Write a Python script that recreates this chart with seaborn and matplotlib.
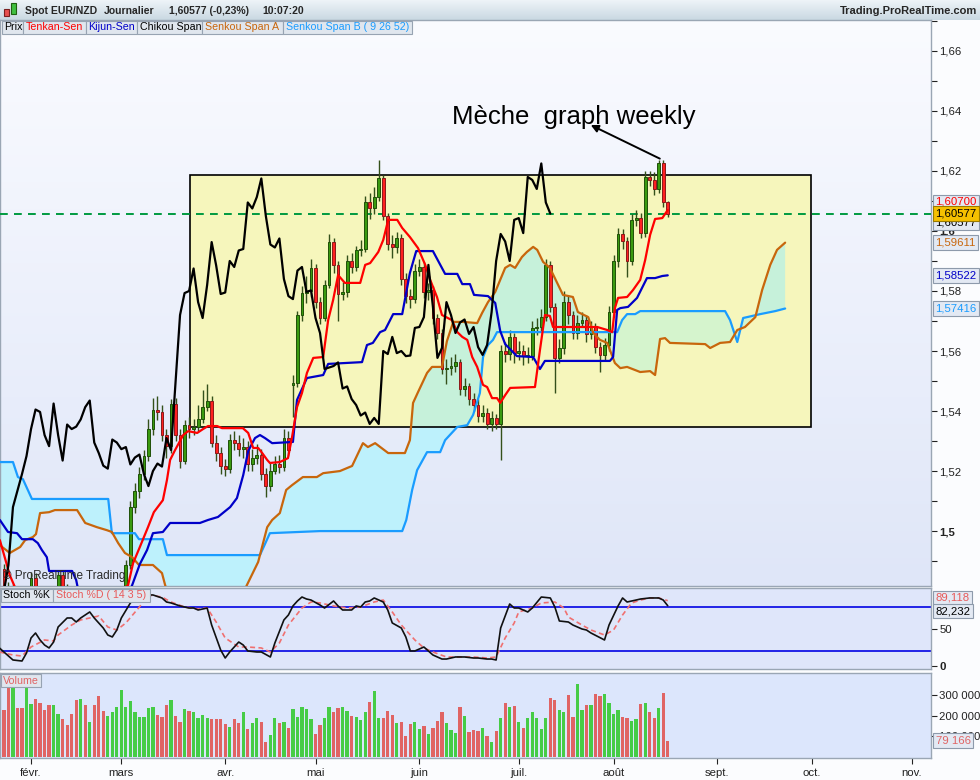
import numpy as np
import pandas as pd
import matplotlib
matplotlib.use("Agg")
import matplotlib.pyplot as plt
import matplotlib.transforms as mtransforms
from matplotlib.patches import Rectangle
from matplotlib.colors import LinearSegmentedColormap
import seaborn as sns

sns.set_theme(style="white")
plt.rcParams["font.family"] = ["Liberation Sans", "DejaVu Sans"]
plt.rcParams["axes.unicode_minus"] = False

# ------------------------------------------------------------------ data
start_date = "2017-01-23"          # business-day index 0
bar_idx = list(range(1, 149))      # 24 Jan 2017 ... 17 Aug 2017

open_ = [
    1.4875, 1.4810, 1.4770, 1.4800, 1.4760, 1.4720, 1.4780, 1.4845, 1.4800, 1.4760,
    1.4730, 1.4700, 1.4770, 1.4855, 1.4810, 1.4770, 1.4740, 1.4710, 1.4750, 1.4720,
    1.4760, 1.4730, 1.4700, 1.4670, 1.4700, 1.4730, 1.4760, 1.4800, 1.4887, 1.5080,
    1.5135, 1.5190, 1.5250, 1.5340, 1.5405, 1.5397, 1.5320, 1.5283, 1.5425, 1.5320,
    1.5235, 1.5355, 1.5340, 1.5348, 1.5372, 1.5413, 1.5435, 1.5295, 1.5260, 1.5218,
    1.5208, 1.5305, 1.5295, 1.5273, 1.5280, 1.5222, 1.5245, 1.5255, 1.5190, 1.5150,
    1.5200, 1.5225, 1.5215, 1.5310, 1.5488, 1.5495, 1.5720, 1.5793, 1.5800, 1.5875,
    1.5763, 1.5710, 1.5820, 1.5963, 1.5885, 1.5790, 1.5795, 1.5900, 1.5880, 1.5935,
    1.5940, 1.6095, 1.6075, 1.6113, 1.6175, 1.6050, 1.5955, 1.5945, 1.5975, 1.5840,
    1.5783, 1.5773, 1.5868, 1.5880, 1.5797, 1.5802, 1.5710, 1.5660, 1.5540, 1.5545,
    1.5550, 1.5562, 1.5475, 1.5482, 1.5440, 1.5420, 1.5385, 1.5395, 1.5357, 1.5377,
    1.5357, 1.5600, 1.5590, 1.5647, 1.5593, 1.5600, 1.5583, 1.5585, 1.5677, 1.5680,
    1.5713, 1.5887, 1.5747, 1.5577, 1.5610, 1.5763, 1.5720, 1.5660, 1.5695, 1.5705,
    1.5657, 1.5680, 1.5613, 1.5587, 1.5620, 1.5730, 1.5900, 1.5990, 1.5965, 1.5900,
    1.6037, 1.6043, 1.5993, 1.6180, 1.6170, 1.6140, 1.6225, 1.6095]

close = [
    1.4810, 1.4770, 1.4800, 1.4760, 1.4720, 1.4780, 1.4845, 1.4800, 1.4760, 1.4730,
    1.4700, 1.4770, 1.4855, 1.4810, 1.4770, 1.4740, 1.4710, 1.4750, 1.4720, 1.4760,
    1.4730, 1.4700, 1.4670, 1.4700, 1.4730, 1.4760, 1.4800, 1.4887, 1.5080, 1.5135,
    1.5190, 1.5250, 1.5340, 1.5405, 1.5397, 1.5320, 1.5283, 1.5425, 1.5320, 1.5235,
    1.5355, 1.5340, 1.5348, 1.5372, 1.5413, 1.5435, 1.5295, 1.5260, 1.5218, 1.5208,
    1.5305, 1.5295, 1.5273, 1.5280, 1.5222, 1.5245, 1.5255, 1.5190, 1.5150, 1.5200,
    1.5225, 1.5215, 1.5310, 1.5270, 1.5495, 1.5720, 1.5793, 1.5800, 1.5875, 1.5763,
    1.5710, 1.5820, 1.5963, 1.5885, 1.5790, 1.5795, 1.5900, 1.5880, 1.5935, 1.5940,
    1.6095, 1.6075, 1.6113, 1.6175, 1.6050, 1.5955, 1.5945, 1.5975, 1.5840, 1.5783,
    1.5773, 1.5868, 1.5880, 1.5797, 1.5802, 1.5710, 1.5660, 1.5540, 1.5545, 1.5550,
    1.5562, 1.5475, 1.5482, 1.5440, 1.5420, 1.5385, 1.5395, 1.5357, 1.5377, 1.5357,
    1.5600, 1.5590, 1.5647, 1.5593, 1.5600, 1.5583, 1.5585, 1.5677, 1.5680, 1.5713,
    1.5887, 1.5747, 1.5577, 1.5610, 1.5763, 1.5720, 1.5660, 1.5695, 1.5705, 1.5657,
    1.5680, 1.5613, 1.5587, 1.5620, 1.5730, 1.5900, 1.5990, 1.5965, 1.5900, 1.6037,
    1.6043, 1.5993, 1.6180, 1.6170, 1.6140, 1.6225, 1.6095, 1.60577]

high = [
    1.4890, 1.4830, 1.4825, 1.4815, 1.4775, 1.4795, 1.4865, 1.4860, 1.4815, 1.4780,
    1.4745, 1.4790, 1.4870, 1.4868, 1.4825, 1.4785, 1.4755, 1.4765, 1.4765, 1.4775,
    1.4770, 1.4745, 1.4715, 1.4715, 1.4745, 1.4775, 1.4815, 1.4905, 1.5100, 1.5160,
    1.5215, 1.5270, 1.5375, 1.5445, 1.5450, 1.5420, 1.5340, 1.5440, 1.5445, 1.5340,
    1.5370, 1.5380, 1.5375, 1.5420, 1.5470, 1.5490, 1.5450, 1.5320, 1.5280, 1.5240,
    1.5325, 1.5335, 1.5320, 1.5310, 1.5300, 1.5275, 1.5290, 1.5275, 1.5210, 1.5230,
    1.5250, 1.5255, 1.5340, 1.5335, 1.5520, 1.5735, 1.5815, 1.5850, 1.5905, 1.5890,
    1.5780, 1.5835, 1.5990, 1.5975, 1.5900, 1.5830, 1.5920, 1.5925, 1.5950, 1.5970,
    1.6115, 1.6125, 1.6145, 1.6237, 1.6185, 1.6060, 1.5985, 1.5995, 1.5990, 1.5860,
    1.5805, 1.5890, 1.5905, 1.5895, 1.5825, 1.5815, 1.5725, 1.5675, 1.5575, 1.5580,
    1.5590, 1.5575, 1.5510, 1.5495, 1.5460, 1.5440, 1.5420, 1.5410, 1.5400, 1.5390,
    1.5620, 1.5630, 1.5670, 1.5660, 1.5635, 1.5620, 1.5615, 1.5700, 1.5710, 1.5740,
    1.5905, 1.5900, 1.5760, 1.5640, 1.5800, 1.5785, 1.5735, 1.5720, 1.5730, 1.5720,
    1.5700, 1.5695, 1.5630, 1.5645, 1.5750, 1.5920, 1.6010, 1.6005, 1.5980, 1.6055,
    1.6070, 1.6060, 1.6200, 1.6200, 1.6195, 1.6237, 1.6237, 1.6100]

low = [
    1.4795, 1.4750, 1.4755, 1.4745, 1.4700, 1.4710, 1.4770, 1.4785, 1.4745, 1.4715,
    1.4685, 1.4690, 1.4760, 1.4795, 1.4755, 1.4725, 1.4695, 1.4700, 1.4705, 1.4710,
    1.4715, 1.4685, 1.4650, 1.4655, 1.4690, 1.4720, 1.4750, 1.4790, 1.4875, 1.5060,
    1.5110, 1.5170, 1.5235, 1.5320, 1.5370, 1.5300, 1.5245, 1.5260, 1.5300, 1.5210,
    1.5225, 1.5310, 1.5320, 1.5335, 1.5360, 1.5400, 1.5280, 1.5235, 1.5190, 1.5185,
    1.5195, 1.5270, 1.5250, 1.5245, 1.5200, 1.5200, 1.5225, 1.5170, 1.5115, 1.5135,
    1.5190, 1.5195, 1.5200, 1.5250, 1.5380, 1.5480, 1.5700, 1.5760, 1.5780, 1.5745,
    1.5690, 1.5700, 1.5810, 1.5860, 1.5700, 1.5770, 1.5780, 1.5860, 1.5865, 1.5915,
    1.5930, 1.6040, 1.6055, 1.6100, 1.6035, 1.5935, 1.5910, 1.5925, 1.5820, 1.5760,
    1.5745, 1.5760, 1.5850, 1.5775, 1.5770, 1.5690, 1.5640, 1.5525, 1.5490, 1.5520,
    1.5530, 1.5455, 1.5450, 1.5420, 1.5400, 1.5365, 1.5365, 1.5340, 1.5335, 1.5340,
    1.5237, 1.5565, 1.5570, 1.5560, 1.5570, 1.5555, 1.5560, 1.5570, 1.5655, 1.5665,
    1.5700, 1.5730, 1.5460, 1.5560, 1.5590, 1.5690, 1.5640, 1.5640, 1.5680, 1.5630,
    1.5640, 1.5595, 1.5530, 1.5570, 1.5600, 1.5715, 1.5880, 1.5940, 1.5845, 1.5885,
    1.6015, 1.5975, 1.5980, 1.6150, 1.6120, 1.6125, 1.6080, 1.6045]

volume = [
    225000, 332000, 345000, 235000, 235000, 340000, 255000, 280000, 260000, 225000,
    250000, 250000, 210000, 185000, 157000, 210000, 275000, 280000, 250000, 170000,
    250000, 295000, 220000, 200000, 215000, 240000, 325000, 240000, 270000, 215000,
    195000, 195000, 235000, 240000, 205000, 195000, 250000, 275000, 200000, 170000,
    230000, 220000, 215000, 190000, 205000, 190000, 185000, 185000, 185000, 160000,
    145000, 185000, 165000, 215000, 135000, 165000, 190000, 170000, 75000, 105000,
    190000, 165000, 170000, 140000, 230000, 195000, 240000, 230000, 185000, 110000,
    155000, 190000, 240000, 215000, 235000, 240000, 220000, 200000, 195000, 180000,
    215000, 265000, 320000, 190000, 190000, 220000, 205000, 165000, 170000, 100000,
    160000, 170000, 135000, 150000, 110000, 140000, 175000, 215000, 165000, 130000,
    115000, 240000, 200000, 120000, 130000, 125000, 140000, 100000, 75000, 125000,
    190000, 260000, 240000, 245000, 170000, 140000, 190000, 215000, 190000, 135000,
    190000, 285000, 275000, 225000, 215000, 300000, 195000, 350000, 225000, 250000,
    250000, 305000, 295000, 305000, 260000, 210000, 225000, 195000, 190000, 175000,
    185000, 255000, 260000, 215000, 190000, 235000, 310000, 79166]

# Ichimoku lines (bar index, price)
tenkan_t = [0.1, 2.3, 3.9, 13.4, 24.5, 28.5, 29.6, 31.1, 32.9, 34.2, 36.2, 37.1, 37.8, 38.9, 40.7,
            41.8, 43.8, 45.1, 46.2, 48.2, 49.3, 53.9, 55.1, 56.2, 57.3, 58.2, 59.3, 59.9, 62.1, 63.9,
            64.8, 65.9, 67.0, 68.1, 69.5, 71.7, 72.8, 73.9, 75.0, 76.5, 79.9, 81.0, 82.1, 83.9, 85.0,
            86.1, 88.1, 89.2, 90.9, 92.7, 94.3, 95.4, 96.9, 98.0, 100.2, 101.4, 102.5, 103.6, 104.7,
            105.8, 107.1, 108.0, 109.1, 110.2, 110.9, 112.0, 113.1, 118.6, 119.7, 120.8, 121.9, 122.6,
            132.4, 134.6, 135.7, 136.3, 137.0, 139.0, 140.3, 141.9, 143.0, 144.1, 145.2, 146.8, 148.0]
tenkan_v = [1.4970, 1.4853, 1.4797, 1.4777, 1.4770, 1.4820, 1.4893, 1.4947, 1.5013, 1.5063, 1.5103,
            1.5170, 1.5237, 1.5270, 1.5320, 1.5333, 1.5327, 1.5340, 1.5350, 1.5350, 1.5343, 1.5343,
            1.5327, 1.5277, 1.5277, 1.5260, 1.5237, 1.5227, 1.5230, 1.5243, 1.5313, 1.5413, 1.5460,
            1.5527, 1.5577, 1.5580, 1.5703, 1.5770, 1.5853, 1.5827, 1.5827, 1.5887, 1.5893, 1.5930,
            1.5970, 1.6037, 1.6037, 1.6010, 1.5980, 1.5943, 1.5887, 1.5837, 1.5780, 1.5720, 1.5703,
            1.5663, 1.5647, 1.5637, 1.5580, 1.5547, 1.5487, 1.5480, 1.5443, 1.5443, 1.5427, 1.5453,
            1.5477, 1.5480, 1.5603, 1.5720, 1.5717, 1.5680, 1.5680, 1.5670, 1.5663, 1.5743, 1.5777,
            1.5780, 1.5803, 1.5837, 1.5903, 1.5987, 1.6040, 1.6043, 1.6070]

kijun_t = [0.1, 1.9, 3.9, 5.0, 7.4, 8.5, 9.4, 10.5, 11.0, 16.1, 17.0, 17.9, 27.8, 29.4, 31.1, 32.7,
           34.0, 36.2, 37.8, 44.4, 46.2, 48.4, 51.1, 52.6, 54.0, 55.1, 56.6, 57.7, 58.8, 60.4, 65.0,
           65.9, 68.1, 71.7, 72.8, 80.3, 81.4, 82.7, 84.3, 85.4, 87.2, 89.2, 90.9, 92.3, 96.0, 98.7,
           101.4, 102.5, 104.2, 105.1, 108.2, 109.8, 110.9, 112.0, 114.6, 118.2, 119.7, 120.8, 135.2,
           135.9, 136.8, 137.5, 139.2, 141.2, 142.3, 143.4, 145.2, 146.8, 148.0]
kijun_v = [1.5037, 1.4997, 1.4993, 1.4973, 1.4973, 1.4960, 1.4937, 1.4913, 1.4867, 1.4867, 1.4837,
           1.4770, 1.4770, 1.4820, 1.4890, 1.4937, 1.4993, 1.4997, 1.5027, 1.5027, 1.5037, 1.5047,
           1.5080, 1.5110, 1.5187, 1.5267, 1.5310, 1.5320, 1.5310, 1.5293, 1.5297, 1.5437, 1.5510,
           1.5520, 1.5557, 1.5563, 1.5620, 1.5627, 1.5663, 1.5670, 1.5723, 1.5723, 1.5860, 1.5933,
           1.5933, 1.5857, 1.5857, 1.5823, 1.5823, 1.5787, 1.5783, 1.5760, 1.5667, 1.5623, 1.5583,
           1.5580, 1.5540, 1.5567, 1.5567, 1.5580, 1.5737, 1.5743, 1.5747, 1.5777, 1.5810, 1.5843,
           1.5843, 1.5850, 1.58522]

senkou_a_t = [0.1, 2.3, 4.6, 5.7, 7.4, 8.1, 9.0, 11.0, 12.3, 17.2, 19.0, 21.6, 23.8, 24.9, 26.3,
              27.8, 29.4, 30.9, 34.0, 36.0, 36.7, 37.8, 53.3, 54.8, 57.3, 59.3, 60.4, 62.1, 63.5,
              64.8, 67.2, 70.3, 71.7, 75.4, 78.1, 80.5, 81.6, 83.2, 86.1, 89.8, 90.9, 91.6, 92.7,
              94.7, 95.8, 98.0, 99.1, 100.5, 102.7, 105.8, 106.9, 108.2, 109.8, 110.9, 112.0, 113.1,
              114.2, 115.7, 116.8, 118.2, 119.1, 120.4, 121.9, 123.0, 124.8, 127.0, 128.1, 130.4,
              131.5, 133.0, 134.6, 136.3, 137.5, 139.0, 141.9, 144.1, 145.2, 146.3, 147.4, 148.5,
              156.3, 157.4, 159.6, 161.8, 163.4, 165.1, 167.4, 168.9, 170.7, 172.2, 174.0]
senkou_a_v = [1.4953, 1.4927, 1.4947, 1.4970, 1.4980, 1.4990, 1.5060, 1.5063, 1.5070, 1.5070,
              1.5027, 1.5013, 1.5003, 1.4997, 1.4960, 1.4927, 1.4913, 1.4887, 1.4887, 1.4860,
              1.4820, 1.4770, 1.4770, 1.4820, 1.4897, 1.5013, 1.5037, 1.5060, 1.5137, 1.5153,
              1.5180, 1.5180, 1.5193, 1.5200, 1.5217, 1.5293, 1.5280, 1.5293, 1.5260, 1.5260,
              1.5303, 1.5427, 1.5463, 1.5527, 1.5547, 1.5547, 1.5633, 1.5697, 1.5697, 1.5693,
              1.5727, 1.5763, 1.5797, 1.5837, 1.5877, 1.5887, 1.5877, 1.5913, 1.5930, 1.5947,
              1.5937, 1.5897, 1.5877, 1.5843, 1.5787, 1.5780, 1.5730, 1.5713, 1.5660, 1.5637,
              1.5627, 1.5560, 1.5543, 1.5547, 1.5530, 1.5533, 1.5520, 1.5640, 1.5643, 1.5627,
              1.5623, 1.5610, 1.5627, 1.5630, 1.5670, 1.5680, 1.5713, 1.5803, 1.5887, 1.5937, 1.59611]

senkou_b_t = [0.1, 3.0, 4.1, 5.2, 7.2, 24.1, 24.9, 30.0, 30.9, 36.2, 37.1, 57.7, 59.9, 71.0, 89.2,
              90.1, 91.4, 92.5, 94.7, 97.6, 98.7, 101.4, 103.6, 104.9, 106.4, 107.1, 108.2, 109.3,
              110.2, 136.8, 137.9, 139.0, 140.8, 141.9, 160.7, 161.8, 163.4, 164.7, 168.5, 171.8, 174.0]
senkou_b_v = [1.5230, 1.5230, 1.5180, 1.5173, 1.5107, 1.5107, 1.4993, 1.4993, 1.4973, 1.4973,
              1.4920, 1.4920, 1.4993, 1.5000, 1.5000, 1.5037, 1.5137, 1.5203, 1.5263, 1.5263,
              1.5303, 1.5347, 1.5353, 1.5387, 1.5460, 1.5580, 1.5620, 1.5637, 1.5663, 1.5663,
              1.5703, 1.5723, 1.5723, 1.5733, 1.5733, 1.5703, 1.5630, 1.5710, 1.5723, 1.5733, 1.57416]
chikou_shift = 26

# Stochastic (14 3 5)
stoch_k_t = [0, 1, 3, 5, 6, 7, 8, 9, 10, 11, 12, 13, 15, 16, 17, 18, 20, 21, 23, 24, 25, 26, 27, 29,
             31, 34, 36, 37, 38, 40, 42, 43, 44, 46, 47, 49, 50, 51, 53, 54, 55, 57, 58, 60, 61, 63,
             64, 65, 66, 67, 68, 69, 71, 72, 74, 75, 76, 78, 79, 80, 81, 82, 83, 85, 86, 87, 89, 90,
             91, 92, 94, 96, 98, 99, 101, 103, 105, 106, 108, 109, 110, 111, 113, 114, 115, 117, 118,
             120, 122, 123, 124, 126, 127, 129, 130, 131, 134, 135, 137, 138, 139, 141, 142, 144, 146,
             147, 148]
stoch_k_v = [24.6, 19.1, 8.2, 6.8, 17.7, 38.2, 45.0, 35.5, 28.6, 24.6, 32.7, 53.2, 65.5, 65.5, 60.0,
             65.5, 73.7, 65.5, 51.8, 42.3, 39.6, 49.1, 65.5, 86.0, 96.9, 96.9, 92.8, 87.3, 86.0, 81.9,
             79.1, 79.1, 76.4, 79.1, 55.9, 21.8, 10.9, 19.1, 32.7, 28.6, 20.5, 19.1, 19.1, 12.3, 31.4,
             62.8, 69.6, 81.9, 88.7, 94.1, 91.4, 90.0, 83.2, 79.1, 88.7, 81.9, 76.4, 76.4, 81.9, 80.5,
             87.3, 88.7, 92.8, 87.3, 76.4, 58.7, 51.8, 39.6, 20.5, 20.5, 25.9, 15.0, 9.5, 9.5, 12.3,
             12.3, 10.9, 10.9, 9.5, 9.5, 8.2, 51.8, 84.6, 79.1, 79.1, 73.7, 79.1, 94.1, 92.8, 80.5,
             61.4, 60.0, 55.9, 50.5, 49.1, 45.0, 35.5, 55.9, 81.9, 92.8, 87.3, 90.0, 91.4, 92.8, 92.8,
             90.0, 82.232]
stoch_d_t = [0, 3, 5, 7, 10, 12, 13, 16, 18, 20, 22, 24, 26, 28, 31, 33, 36, 38, 41, 44, 46, 48, 50,
             53, 55, 58, 60, 62, 64, 67, 69, 71, 74, 77, 80, 83, 85, 87, 89, 92, 94, 96, 99, 102, 105,
             108, 110, 112, 114, 115, 118, 120, 123, 125, 126, 129, 131, 134, 136, 138, 140, 142, 144,
             146, 148]
stoch_d_v = [19.1, 15.0, 13.6, 25.9, 35.5, 34.1, 42.3, 55.9, 62.8, 65.5, 68.2, 53.2, 49.1, 58.7, 80.5,
             96.9, 94.1, 87.3, 80.5, 77.8, 79.1, 60.0, 38.2, 25.9, 25.9, 24.6, 19.1, 31.4, 55.9, 79.1,
             87.3, 86.0, 81.9, 79.1, 80.5, 87.3, 90.0, 73.7, 55.9, 35.5, 24.6, 19.1, 12.3, 12.3, 12.3,
             10.9, 12.3, 38.2, 58.7, 73.7, 79.1, 86.0, 87.3, 79.1, 66.8, 55.9, 49.1, 42.3, 49.1, 69.6,
             86.0, 90.0, 92.8, 92.8, 89.118]

month_labels = ["févr.", "mars", "avr.", "mai", "juin", "juil.", "août", "sept.", "oct.", "nov."]

box_t = (42.2, 179.8)
box_p = (1.5347, 1.6187)
annot_text = "Mèche  graph weekly"
annot_tip = (130.4, 1.6357)
annot_base = (146.8, 1.6237)
annot_pos = (127.2, 1.6380)

last_close = 1.60577
tenkan_last, kijun_last = 1.60700, 1.58522
senkou_a_last, senkou_b_last = 1.59611, 1.57416
stoch_k_last, stoch_d_last = 82.232, 89.118
volume_last = 79166

legend_items = ["Prix", "Tenkan-Sen", "Kijun-Sen", "Chikou Span", "Senkou Span A",
                "Senkou Span B ( 9 26 52)"]

# ------------------------------------------------------------------ style
C_TENKAN, C_KIJUN, C_CHIKOU = "#ff0000", "#0000c8", "#000000"
C_SSA, C_SSB = "#c8660c", "#1a9cff"
C_UP, C_DN = "#3a9a10", "#ff2020"
W, H = 980, 780
FS = 8.2
FL = 7.7

fig = plt.figure(figsize=(W / 100, H / 100), dpi=100, facecolor="#fbfcfe")


def px_axes(x0, y0, x1, y1):
    return fig.add_axes([x0 / W, 1 - y1 / H, (x1 - x0) / W, (y1 - y0) / H])


def vgrad(a, top, bottom, z=-10):
    cm = LinearSegmentedColormap.from_list("g", [bottom, top])
    a.imshow(np.linspace(0, 1, 256).reshape(-1, 1), cmap=cm, aspect="auto", origin="lower",
             extent=(0, 1, 0, 1), transform=a.transAxes, zorder=z, interpolation="bilinear")


def fmt_price(v, nd):
    return f"{v:.{nd}f}".replace(".", ",")


def fig_box(x0, y0, x1, y1, fc, ec="#97a3b2", z=20):
    fig.add_artist(Rectangle((x0 / W, 1 - y1 / H), (x1 - x0) / W, (y1 - y0) / H,
                             transform=fig.transFigure, fc=fc, ec=ec, lw=0.8, zorder=z))


def fig_txt(x, y, s, **kw):
    fig.text(x / W, 1 - y / H, s, va="center", zorder=25, **kw)


def tag(a, y, s, tc, fc="#e3e9f3", ec="#8d9aab"):
    tr = mtransforms.blended_transform_factory(a.transAxes, a.transData)
    a.text(1 + 4.5 / 931, y, s, transform=tr, ha="left", va="center", fontsize=FS, color=tc,
           bbox=dict(boxstyle="square,pad=0.2", fc=fc, ec=ec, lw=0.8), clip_on=False, zorder=40)


XL = (0.13, 206.3)
x = np.array(bar_idx, dtype=float)
o, c, h, l = map(np.array, (open_, close, high, low))
up = c >= o

# ------------------------------------------------------------------ header
ax_head = px_axes(0, 0, W, 20)
ax_head.set_axis_off()
vgrad(ax_head, "#eef4f8", "#c9d8e2")
ax_head.set_xlim(0, 1)
ax_head.set_ylim(0, 1)
fig_box(4, 9, 9, 16, "#e85050", "#7a2020")
fig_box(11, 3, 16, 14, "#40c040", "#1f6010")
fig_txt(25, 11, "Spot EUR/NZD", fontsize=7.5, fontweight="bold")
fig_txt(104, 11, "Journalier", fontsize=7.5, fontweight="bold")
fig_txt(169, 11, "1,60577 (-0,23%)", fontsize=7.5, fontweight="bold")
fig_txt(262, 11, "10:07:20", fontsize=7.5, fontweight="bold")
fig_txt(977, 11, "Trading.ProRealTime.com", fontsize=8.0, fontweight="bold", ha="right")

# ------------------------------------------------------------------ main panel
ax = px_axes(0, 20, 931, 586)
vgrad(ax, "#fafbff", "#dfe6f8")

grid = np.linspace(senkou_a_t[0], senkou_a_t[-1], 4000)
ga = np.interp(grid, senkou_a_t, senkou_a_v)
gb = np.interp(grid, senkou_b_t, senkou_b_v)
# cloud outside the highlight box
ax.fill_between(grid, ga, gb, color="#bdf1fc", lw=0, zorder=2)
# highlight box and the cloud seen through it
box_fill = Rectangle((box_t[0], box_p[0]), box_t[1] - box_t[0], box_p[1] - box_p[0],
                     fc="#f6f6bc", ec="none", zorder=2.5)
ax.add_patch(box_fill)
in1 = ax.fill_between(grid, ga, gb, where=gb >= ga, interpolate=True, color="#d5f4cd", lw=0, zorder=2.6)
in2 = ax.fill_between(grid, ga, gb, where=ga > gb, interpolate=True, color="#c6f1da", lw=0, zorder=2.6)
in1.set_clip_path(box_fill)
in2.set_clip_path(box_fill)
ax.add_patch(Rectangle((box_t[0], box_p[0]), box_t[1] - box_t[0], box_p[1] - box_p[0],
                       fc="none", ec="black", lw=1.2, zorder=3))
ax.axhline(last_close, color="#009a40", lw=1.4, ls=(0, (4, 3.2)), zorder=4)

# candles
ax.vlines(x, l, h, color="#34501a", lw=1.0, zorder=6)
body_lo = np.minimum(o, c)
body_h = np.maximum(np.abs(c - o), 0.0003)
ax.bar(x[up], body_h[up], bottom=body_lo[up], width=0.62, color=C_UP, edgecolor="#1f5008",
       lw=0.7, zorder=7)
ax.bar(x[~up], body_h[~up], bottom=body_lo[~up], width=0.62, color=C_DN, edgecolor="#8a1a1a",
       lw=0.7, zorder=7)

lw_ind = 1.6
sns.lineplot(x=senkou_b_t, y=senkou_b_v, ax=ax, color=C_SSB, linewidth=lw_ind, sort=False,
             estimator=None, zorder=8)
sns.lineplot(x=senkou_a_t, y=senkou_a_v, ax=ax, color=C_SSA, linewidth=lw_ind, sort=False,
             estimator=None, zorder=8)
sns.lineplot(x=kijun_t, y=kijun_v, ax=ax, color=C_KIJUN, linewidth=lw_ind, sort=False,
             estimator=None, zorder=9)
sns.lineplot(x=tenkan_t, y=tenkan_v, ax=ax, color=C_TENKAN, linewidth=lw_ind, sort=False,
             estimator=None, zorder=9)
sns.lineplot(x=x - chikou_shift, y=c, ax=ax, color=C_CHIKOU, linewidth=lw_ind, sort=False,
             estimator=None, zorder=10)

ax.annotate("", xy=annot_tip, xytext=annot_base,
            arrowprops=dict(arrowstyle="-|>", color="black", lw=1.4, mutation_scale=11), zorder=12)
ax.text(annot_pos[0], annot_pos[1], annot_text, ha="center", va="center", fontsize=18.5,
        color="black", zorder=12)
ax.text(0.003, 0.013, "© ProRealTime Trading", transform=ax.transAxes, fontsize=8.5,
        color="#2a2a2a", zorder=12)

ax.set_xlim(XL)
ax.set_ylim(1.4817, 1.6703)
ax.set_xlabel("")
ax.set_ylabel("")
ax.yaxis.tick_right()
yt = np.round(np.arange(1.50, 1.661, 0.02), 2)
ax.set_yticks(yt)
ax.set_yticklabels([f"{v:.2f}".rstrip("0").replace(".", ",") for v in yt])
ax.set_yticks(np.round(np.arange(1.49, 1.671, 0.02), 2), minor=True)
ax.tick_params(axis="y", which="both", direction="out", length=4, width=0.8, colors="#222222",
               labelsize=FS, pad=2, right=True, left=False)
ax.tick_params(axis="x", bottom=False, labelbottom=False)
for lab in ax.get_yticklabels():
    if lab.get_text() in ("1,5", "1,6"):
        lab.set_fontweight("bold")

tag(ax, 1.6027, fmt_price(last_close, 5), "#000000")
tag(ax, 1.6097, fmt_price(tenkan_last, 5), C_TENKAN)
tag(ax, last_close, fmt_price(last_close, 5), "#000000", fc="#f5c000", ec="#9a7a00")
tag(ax, senkou_a_last, fmt_price(senkou_a_last, 5), C_SSA)
tag(ax, kijun_last, fmt_price(kijun_last, 5), C_KIJUN)
tag(ax, senkou_b_last, fmt_price(senkou_b_last, 5), C_SSB)

# ------------------------------------------------------------------ stochastic panel
ax_st = px_axes(0, 588, 931, 669)
ax_st.set_facecolor("#dfe6fa")
ax_st.axhline(80, color="#1414e6", lw=1.3, zorder=2)
ax_st.axhline(20, color="#1414e6", lw=1.3, zorder=2)
sns.lineplot(x=stoch_d_t, y=stoch_d_v, ax=ax_st, color="#f07070", linewidth=1.2, sort=False,
             estimator=None, zorder=3, linestyle=(0, (3, 2)))
sns.lineplot(x=stoch_k_t, y=stoch_k_v, ax=ax_st, color="#111111", linewidth=1.2, sort=False,
             estimator=None, zorder=4)
ax_st.set_xlim(XL)
ax_st.set_ylim(-4.1, 106.4)
ax_st.set_xlabel("")
ax_st.set_ylabel("")
ax_st.yaxis.tick_right()
ax_st.set_yticks([0, 50])
ax_st.set_yticklabels(["0", "50"])
ax_st.tick_params(axis="y", direction="out", length=4, width=0.8, colors="#222222", labelsize=FS,
                  pad=2, right=True, left=False)
ax_st.get_yticklabels()[0].set_fontweight("bold")
ax_st.tick_params(axis="x", bottom=False, labelbottom=False)
tag(ax_st, 93.0, fmt_price(stoch_d_last, 3), "#e85a5a")
tag(ax_st, 75.0, fmt_price(stoch_k_last, 3), "#000000")

# ------------------------------------------------------------------ volume panel
ax_v = px_axes(0, 673, 931, 758)
ax_v.set_facecolor("#dce6fc")
vdf = pd.DataFrame({"t": x, "v": volume, "dir": np.where(up, "up", "down")})
sns.barplot(data=vdf, x="t", y="v", hue="dir", palette={"up": "#46cc46", "down": "#e06464"},
            native_scale=True, width=0.72, dodge=False, saturation=1, legend=False,
            errorbar=None, linewidth=0, ax=ax_v, zorder=3)
ax_v.set_xlim(XL)
ax_v.set_ylim(-4000, 405000)
ax_v.set_xlabel("")
ax_v.set_ylabel("")
ax_v.yaxis.tick_right()
ax_v.set_yticks([100000, 200000, 300000])
ax_v.set_yticklabels(["100 000", "200 000", "300 000"])
ax_v.tick_params(axis="y", direction="out", length=4, width=0.8, colors="#222222", labelsize=FS,
                 pad=2, right=True, left=False)
dates = pd.bdate_range(start_date, periods=215)
pos = pd.Series(np.arange(len(dates)), index=dates)
month_first = pos.groupby([dates.year, dates.month]).min()
month_pos = [int(month_first[(2017, m)]) for m in range(2, 12)]
ax_v.set_xticks(month_pos)
ax_v.set_xticklabels(month_labels)
ax_v.tick_params(axis="x", direction="out", length=4, width=0.8, colors="#222222", labelsize=FS,
                 pad=3, bottom=True)
tag(ax_v, volume_last, f"{volume_last:,}".replace(",", " "), "#e06464")

for a in (ax, ax_st, ax_v):
    for s in a.spines.values():
        s.set_color("#9aa6b4")
        s.set_linewidth(1.0)
        s.set_visible(True)

# ------------------------------------------------------------------ legend rows
lx = [2, 23, 86, 137, 202, 283, 412]
lcol = ["#000000", C_TENKAN, C_KIJUN, "#000000", C_SSA, C_SSB]
for i, s in enumerate(legend_items):
    fig_box(lx[i], 21, lx[i + 1], 34, "#e0e6ee")
    fig_txt(lx[i] + 2.5, 27.5, s, fontsize=FL, color=lcol[i])

fig_box(1, 589, 53, 602, "#e0e6ee")
fig_txt(3, 595.5, "Stoch %K", fontsize=FL, color="#000000")
fig_box(53, 589, 150, 602, "#e0e6ee")
fig_txt(55.5, 595.5, "Stoch %D ( 14 3 5)", fontsize=FL, color="#e85a5a")
fig_box(1, 674, 41, 687, "#e0e6ee")
fig_txt(3, 680.5, "Volume", fontsize=FL, color="#e06464")

fig.savefig("out.png", dpi=100, facecolor=fig.get_facecolor())
